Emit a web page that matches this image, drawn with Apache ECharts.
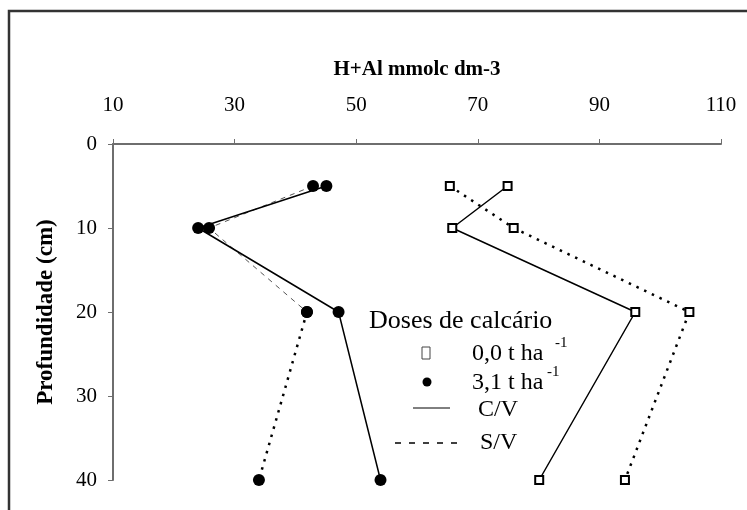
<!DOCTYPE html>
<html>
<head>
<meta charset="utf-8">
<script src="https://cdn.jsdelivr.net/npm/echarts@6/dist/echarts.min.js"></script>
<style>html,body{margin:0;padding:0;background:#fff}#c{width:747px;height:510px}</style>
</head>
<body>
<div id="c"></div>
<script>
// Depth (cm) of each sample
var depths = [5, 10, 20, 40];
// H+Al (mmolc dm-3) values
var square_CV = [74.9, 65.8, 95.9, 80.1];   // 0,0 t ha-1, C/V (solid)
var square_SV = [65.4, 75.9, 104.8, 94.2];  // 0,0 t ha-1, S/V (dotted)
var circle_CV = [45.1, 24.0, 47.1, 54.0];   // 3,1 t ha-1, C/V (solid)
var circle_SV = [42.9, 25.8, 41.9, 34.0];   // 3,1 t ha-1, S/V (dashed)
var xTicks = [10, 30, 50, 70, 90, 110];
var yTicks = [0, 10, 20, 30, 40];

function pts(vals, from, to) {
  var out = [];
  for (var i = from; i < to; i++) out.push([vals[i], depths[i]]);
  return out;
}

var FONT = '"Liberation Serif", "Times New Roman", serif';
var AX = '#6e6e6e';

var chart = echarts.init(document.getElementById('c'), null, {renderer: 'canvas'});
var sqMarker = {symbol: 'rect', symbolSize: 8, itemStyle: {color: '#fff', borderColor: '#000', borderWidth: 2}};
var ciMarker = {symbol: 'circle', symbolSize: 12, itemStyle: {color: '#000', borderWidth: 0}};

chart.setOption({
  animation: false,
  backgroundColor: '#fff',
  grid: {left: 113, right: 26, top: 144, bottom: 30, containLabel: false, outerBoundsMode: 'none'},
  xAxis: {
    type: 'value', position: 'top', min: 10, max: 110,
    name: 'H+Al mmolc dm-3', nameLocation: 'middle', nameGap: 64,
    nameTextStyle: {fontFamily: FONT, fontWeight: 'bold', fontSize: 21, color: '#000'},
    axisLine: {show: true, onZero: false, lineStyle: {color: AX, width: 2}},
    axisTick: {show: true, length: 5, customValues: xTicks, lineStyle: {color: AX, width: 1}},
    axisLabel: {customValues: xTicks, fontFamily: FONT, fontSize: 21, color: '#000', margin: 28},
    splitLine: {show: false}
  },
  yAxis: {
    type: 'value', inverse: true, min: 0, max: 40, interval: 10,
    name: 'Profundidade (cm)', nameLocation: 'middle', nameGap: 55,
    nameTextStyle: {fontFamily: FONT, fontWeight: 'bold', fontSize: 23, color: '#000'},
    axisLine: {show: true, onZero: false, lineStyle: {color: AX, width: 2}},
    axisTick: {show: true, length: 5, lineStyle: {color: AX, width: 1}},
    axisLabel: {fontFamily: FONT, fontSize: 21, color: '#000', margin: 16},
    splitLine: {show: false}
  },
  series: [
    Object.assign({type: 'line', name: '0,0 C/V', data: pts(square_CV, 0, 4),
      lineStyle: {color: '#000', width: 1.5, type: 'solid'}, z: 3}, sqMarker),
    Object.assign({type: 'line', name: '0,0 S/V', data: pts(square_SV, 0, 4),
      lineStyle: {color: '#000', width: 2.5, type: [2.5, 6]}, z: 3}, sqMarker),
    Object.assign({type: 'line', name: '3,1 C/V', data: pts(circle_CV, 0, 4),
      lineStyle: {color: '#000', width: 1.5, type: 'solid'}, z: 3}, ciMarker),
    Object.assign({type: 'line', name: '3,1 S/V upper', data: pts(circle_SV, 0, 3),
      lineStyle: {color: '#555', width: 1, type: [5, 5]}, z: 2}, ciMarker),
    Object.assign({type: 'line', name: '3,1 S/V lower', data: pts(circle_SV, 2, 4),
      lineStyle: {color: '#000', width: 2.5, type: [2.5, 6]}, z: 2}, ciMarker)
  ],
  graphic: [
    {type: 'rect', shape: {x: 9, y: 11, width: 800, height: 600}, style: {fill: 'none', stroke: '#333', lineWidth: 2.5}, silent: true},
    {type: 'text', x: 369, y: 321, style: {text: 'Doses de calcário', font: '26px ' + FONT, fill: '#000', verticalAlign: 'middle'}},
    {type: 'rect', shape: {x: 422, y: 347, width: 8, height: 12}, style: {fill: 'none', stroke: '#444', lineWidth: 1}},
    {type: 'text', x: 472, y: 354, style: {text: '0,0 t ha', font: '24px ' + FONT, fill: '#000', verticalAlign: 'middle'}},
    {type: 'text', x: 555, y: 343, style: {text: '-1', font: '15px ' + FONT, fill: '#000', verticalAlign: 'middle'}},
    {type: 'circle', shape: {cx: 427, cy: 382, r: 4.5}, style: {fill: '#000'}},
    {type: 'text', x: 472, y: 383, style: {text: '3,1 t ha', font: '24px ' + FONT, fill: '#000', verticalAlign: 'middle'}},
    {type: 'text', x: 547, y: 372, style: {text: '-1', font: '15px ' + FONT, fill: '#000', verticalAlign: 'middle'}},
    {type: 'line', shape: {x1: 413, y1: 408, x2: 450, y2: 408}, style: {stroke: '#000', lineWidth: 1}},
    {type: 'text', x: 478, y: 410, style: {text: 'C/V', font: '24px ' + FONT, fill: '#000', verticalAlign: 'middle'}},
    {type: 'line', shape: {x1: 395, y1: 443, x2: 463, y2: 443}, style: {stroke: '#000', lineWidth: 1.5, lineDash: [6, 8]}},
    {type: 'text', x: 480, y: 443, style: {text: 'S/V', font: '24px ' + FONT, fill: '#000', verticalAlign: 'middle'}}
  ]
});
</script>
</body>
</html>
